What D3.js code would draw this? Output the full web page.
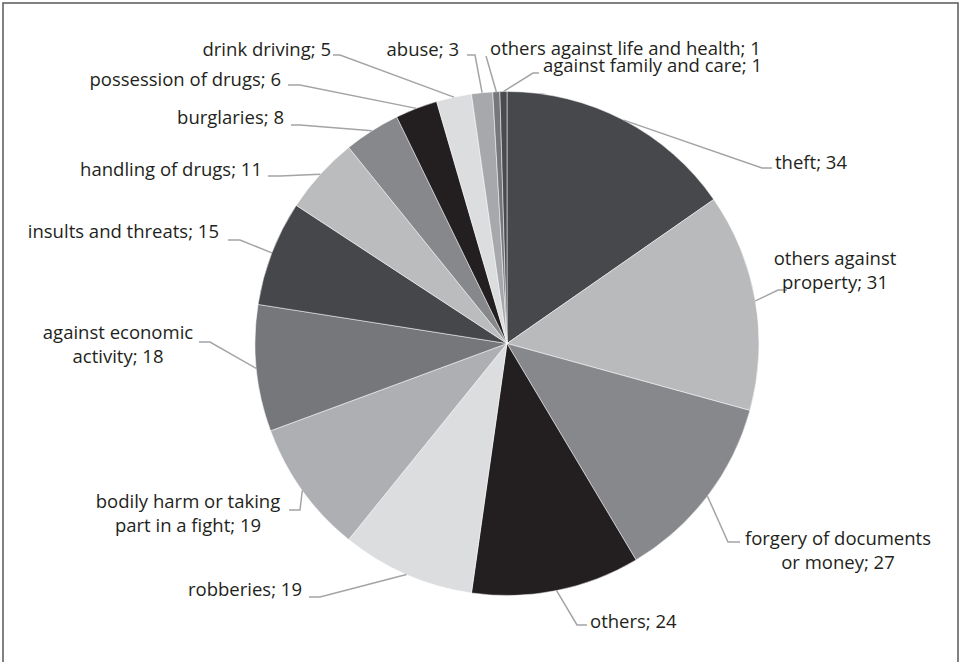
<!DOCTYPE html>
<html>
<head>
<meta charset="utf-8">
<script src="https://cdn.jsdelivr.net/npm/d3@7"></script>
<style>
  html, body { margin: 0; padding: 0; background: #fff; }
  svg { display: block; }
  text { font-family: "Open Sans", "Lato", sans-serif; font-size: 18.5px; fill: #231f20; }
</style>
</head>
<body>
<svg id="chart" width="963" height="662"></svg>
<script>

// categories, clockwise from 12 o'clock
const categorias = [
    "theft", "others against property", "forgery of documents or money", "others",
    "robberies", "bodily harm or taking part in a fight", "against economic activity",
    "insults and threats", "handling of drugs", "burglaries", "possession of drugs",
    "drink driving", "abuse", "others against life and health", "against family and care"
];

const valores = [34, 31, 27, 24, 19, 19, 18, 15, 11, 8, 6, 5, 3, 1, 1];

// label text lines (as printed)
const rotulos = [
    ["theft; 34"],
    ["others against", "property; 31"],
    ["forgery of documents", "or money; 27"],
    ["others; 24"],
    ["robberies; 19"],
    ["bodily harm or taking", "part in a fight; 19"],
    ["against economic", "activity; 18"],
    ["insults and threats; 15"],
    ["handling of drugs; 11"],
    ["burglaries; 8"],
    ["possession of drugs; 6"],
    ["drink driving; 5"],
    ["abuse; 3"],
    ["others against life and health; 1"],
    ["against family and care; 1"]
];

const cores = [
    "#47484b", "#b9babc", "#87888b", "#231f20", "#dcdddf",
    "#aeafb2", "#76777a", "#46474a", "#bbbcbe", "#87888b",
    "#231f20", "#dcdddf", "#a7a8ab", "#76777a", "#4a4b4e"
];

// leader layout: elbow point, hook end, text x/anchor, first baseline
const layoutRotulos = [
    { elbow: [762, 168], hook: 772, tx: 775, anchor: "start",  ty: 169 },
    { elbow: [778, 290], hook: 787, tx: 835, anchor: "middle", ty: 265 },
    { elbow: [728, 542], hook: 740, tx: 838, anchor: "middle", ty: 545 },
    { elbow: [577, 625], hook: 587, tx: 590, anchor: "start",  ty: 628 },
    { elbow: [320, 597], hook: 309, tx: 302, anchor: "end",    ty: 596 },
    { elbow: [300, 510], hook: 289, tx: 188, anchor: "middle", ty: 508 },
    { elbow: [210, 342], hook: 199, tx: 118, anchor: "middle", ty: 339 },
    { elbow: [240, 240], hook: 228, tx: 219, anchor: "end",    ty: 238 },
    { elbow: [280, 176], hook: 268, tx: 262, anchor: "end",    ty: 176 },
    { elbow: [300, 125], hook: 291, tx: 284, anchor: "end",    ty: 124 },
    { elbow: [300,  85], hook: 288, tx: 281, anchor: "end",    ty: 86 },
    { elbow: [340,  55], hook: 333, tx: 331, anchor: "end",    ty: 56 },
    { elbow: [475,  55], hook: 467, tx: 459, anchor: "end",    ty: 56 },
    { elbow: [486,  56], hook: 486, tx: 490, anchor: "start",  ty: 55 },
    { elbow: [533,  73], hook: 539, tx: 543, anchor: "start",  ty: 72 }
];

const largura = 963, altura = 662;
const centro = [507, 343.5];
const raio = 252;
const entrelinha = 23.5;

const svg = d3.select("#chart");

//Moldura
svg.append("rect")
    .attr("x", 3).attr("y", 3)
    .attr("width", 955).attr("height", altura + 20)
    .attr("fill", "none")
    .attr("stroke", "#58585a")
    .attr("stroke-width", 1.5);

const dados = categorias.map((c, i) => ({ categoria: c, valor: valores[i], indice: i }));

const pie = d3.pie().sort(null).value(d => d.valor).startAngle(0).endAngle(2 * Math.PI);
const arcos = pie(dados);

const arc = d3.arc().innerRadius(0).outerRadius(raio);
const arcBorda = d3.arc().innerRadius(raio).outerRadius(raio);

const g = svg.append("g").attr("transform", `translate(${centro[0]},${centro[1]})`);

g.selectAll("path.fatia")
    .data(arcos)
    .enter()
        .append("path")
        .attr("class", "fatia")
        .attr("d", arc)
        .attr("fill", d => cores[d.data.indice])
        .attr("stroke", "#ffffff")
        .attr("stroke-width", 0.5)
        .attr("stroke-linejoin", "round");

//Linhas de chamada
const linhas = svg.append("g");
arcos.forEach(d => {
    const lay = layoutRotulos[d.data.indice];
    const [px, py] = arcBorda.centroid(d);
    const pontos = [
        [centro[0] + px, centro[1] + py],
        lay.elbow,
        [lay.hook, lay.elbow[1]]
    ];
    linhas.append("path")
        .attr("d", d3.line()(pontos))
        .attr("fill", "none")
        .attr("stroke", "#a3a4a6")
        .attr("stroke-width", 1.5);
});

//Rótulos
const textos = svg.append("g");
arcos.forEach(d => {
    const lay = layoutRotulos[d.data.indice];
    const t = textos.append("text")
        .attr("x", lay.tx)
        .attr("y", lay.ty)
        .attr("text-anchor", lay.anchor);
    rotulos[d.data.indice].forEach((linha, k) => {
        t.append("tspan")
            .attr("x", lay.tx)
            .attr("y", lay.ty + k * entrelinha)
            .text(linha);
    });
});

</script>
</body>
</html>
